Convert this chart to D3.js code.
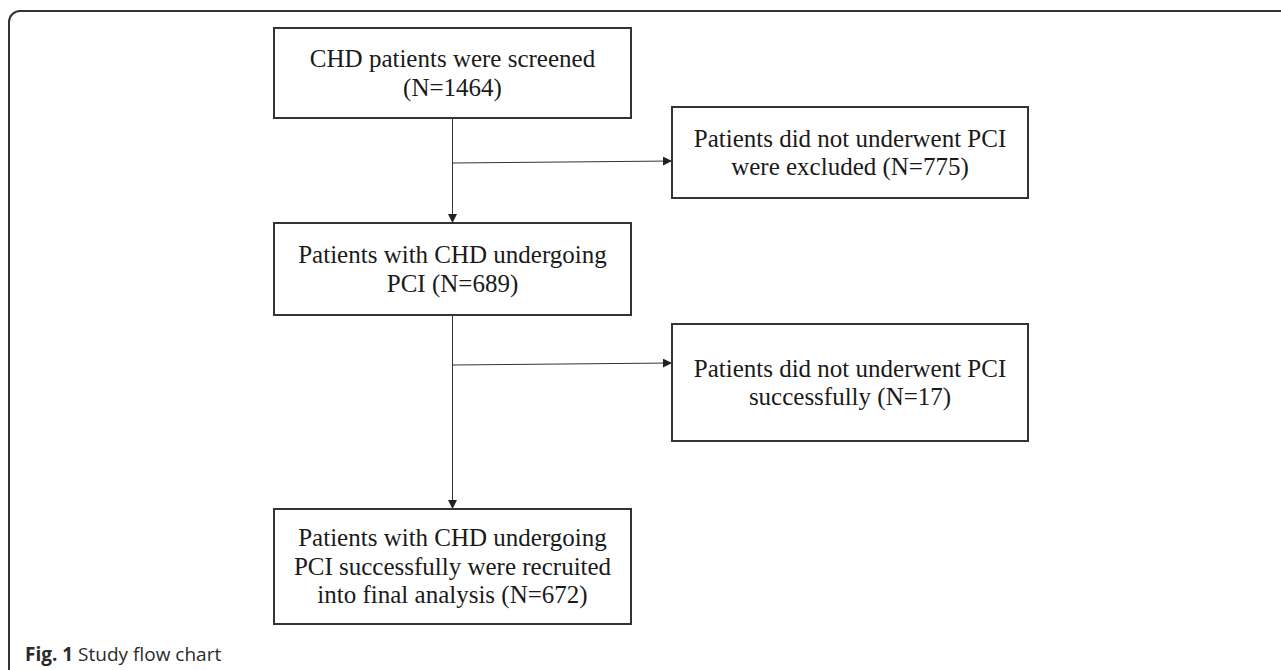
<!DOCTYPE html>
<html>
<head>
    <title>Study flow chart</title>
    <style type="text/css">
      body {
          margin: 0;
          background: #fff;
      }

      .frame {
          fill: none;
          stroke: #333;
          stroke-width: 2px;
      }

      .box {
          fill: #fff;
          stroke: #333;
          stroke-width: 2px;
      }

      .link {
          fill: none;
          stroke: #333;
          stroke-width: 1px;
      }

      .box-label {
          font-family: "Liberation Serif", "Times New Roman", serif;
          font-size: 25px;
          fill: #1a1a1a;
      }

      .caption {
          font-family: "Open Sans", sans-serif;
          font-size: 19px;
          fill: #2a2a2a;
      }
    </style>
</head>
<body>
    <div id="chart"></div>
    <script src="https://d3js.org/d3.v7.min.js"></script>
    <script>

      // flow steps, in the order they appear
      var stepIds = ["screened", "excluded", "pci", "failed", "final"];
      var stepCounts = [1464, 775, 689, 17, 672];
      var stepText = [
        ["CHD patients were screened", "(N=#)"],
        ["Patients did not underwent PCI", "were excluded (N=#)"],
        ["Patients with CHD undergoing", "PCI (N=#)"],
        ["Patients did not underwent PCI", "successfully (N=#)"],
        ["Patients with CHD undergoing", "PCI successfully were recruited", "into final analysis (N=#)"]
      ];
      var stepColumn = ["main", "side", "main", "side", "main"];
      var links = [
        { from: "screened", to: "pci",  branch: "excluded" },
        { from: "pci",      to: "final", branch: "failed" }
      ];
      var captionBold = "Fig. 1";
      var captionText = " Study flow chart";

      var width = 1281,
          height = 670;

      // layout (pixels)
      var colX = d3.scaleOrdinal().domain(["main", "side"]).range([274, 672]);
      var colW = d3.scaleOrdinal().domain(["main", "side"]).range([357, 356]);
      var boxTop = d3.scaleOrdinal().domain(stepIds).range([28, 107, 223, 324, 509]);
      var boxBottom = d3.scaleOrdinal().domain(stepIds).range([118, 198, 315, 441, 624]);
      var branchY = d3.scaleOrdinal().domain(["excluded", "failed"]).range([162, 364]);
      var lineGap = 28.5;

      var steps = stepIds.map(function (id, i) {
        return {
          id: id,
          count: stepCounts[i],
          lines: stepText[i].map(function (t) { return t.replace("#", stepCounts[i]); }),
          x: colX(stepColumn[i]),
          w: colW(stepColumn[i]),
          y: boxTop(id),
          h: boxBottom(id) - boxTop(id)
        };
      });
      var byId = {};
      steps.forEach(function (s) { byId[s.id] = s; });

      var svg = d3.select("#chart")
              .append("svg")
              .attr("width", width)
              .attr("height", height);

      // arrowhead
      svg.append("defs").append("marker")
          .attr("id", "arrow")
          .attr("viewBox", "0 0 10 10")
          .attr("refX", 10)
          .attr("refY", 5)
          .attr("markerWidth", 9)
          .attr("markerHeight", 9)
          .attr("markerUnits", "userSpaceOnUse")
          .attr("orient", "auto")
        .append("path")
          .attr("d", "M0,0L10,5L0,10Z")
          .attr("fill", "#222");

      // outer frame with rounded top-left corner
      var fp = d3.path();
      fp.moveTo(9, height + 5);
      fp.lineTo(9, 22);
      fp.arcTo(9, 11, 20, 11, 11);
      fp.lineTo(width + 5, 11);
      svg.append("path").attr("class", "frame").attr("d", fp.toString());

      // connectors
      var linkGroup = svg.append("g").attr("class", "links");
      links.forEach(function (l) {
        var a = byId[l.from], b = byId[l.to], side = byId[l.branch];
        var cx = a.x + a.w / 2;
        linkGroup.append("line")
            .attr("class", "link")
            .attr("x1", cx).attr("y1", a.y + a.h)
            .attr("x2", cx).attr("y2", b.y)
            .attr("marker-end", "url(#arrow)");
        var by = branchY(l.branch);
        linkGroup.append("line")
            .attr("class", "link")
            .attr("x1", cx).attr("y1", by + 1)
            .attr("x2", side.x).attr("y2", by - 1)
            .attr("marker-end", "url(#arrow)");
      });

      // boxes
      var nodes = svg.append("g").attr("class", "steps")
          .selectAll("g")
          .data(steps)
          .enter().append("g")
          .attr("transform", function (d) { return "translate(" + d.x + "," + d.y + ")"; });

      nodes.append("rect")
          .attr("class", "box")
          .attr("width", function (d) { return d.w; })
          .attr("height", function (d) { return d.h; });

      nodes.each(function (d) {
        var g = d3.select(this);
        var n = d.lines.length;
        var startY = d.h / 2 - (n - 1) * lineGap / 2;
        g.selectAll("text")
            .data(d.lines)
            .enter().append("text")
            .attr("class", "box-label")
            .attr("x", d.w / 2)
            .attr("y", function (t, i) { return startY + i * lineGap; })
            .attr("dy", "0.33em")
            .attr("text-anchor", "middle")
            .text(function (t) { return t; });
      });

      // caption
      var cap = svg.append("text")
          .attr("class", "caption")
          .attr("x", 25)
          .attr("y", 661);
      cap.append("tspan").attr("font-weight", "bold").text(captionBold);
      cap.append("tspan").text(captionText);
    </script>
</body>
</html>
